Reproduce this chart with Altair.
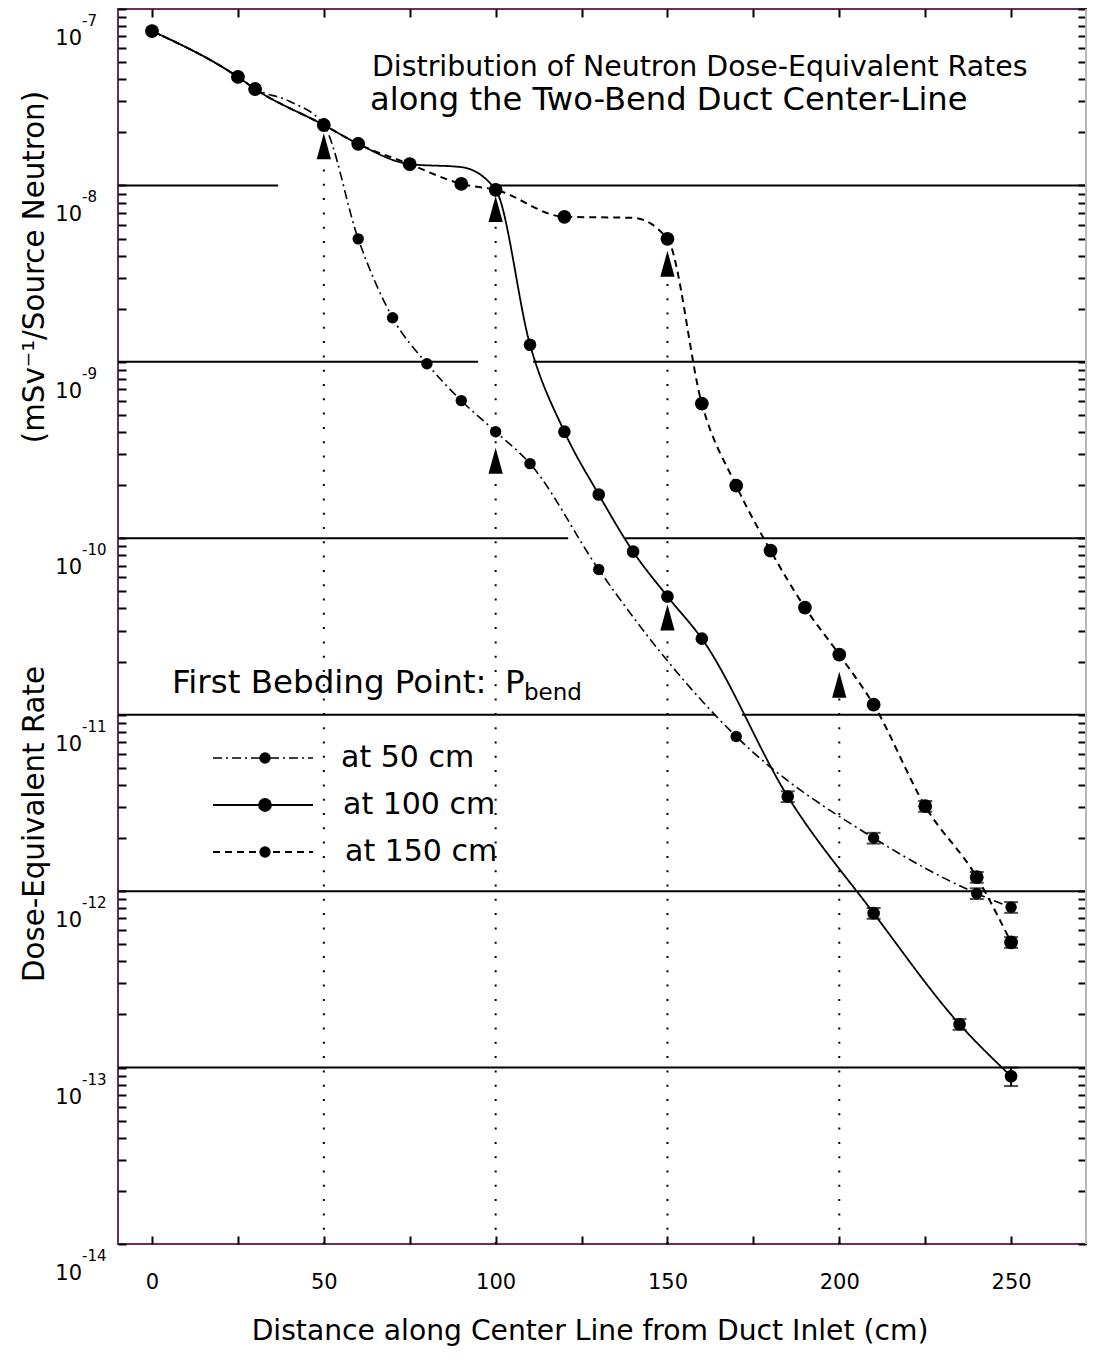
import altair as alt
import pandas as pd

FONT = "DejaVu Sans"

series_names = ["at 50 cm", "at 100 cm", "at 150 cm"]

# ---- data (distance in cm, dose rate) ----
x_50 = [0, 25, 30, 50, 60, 70, 80, 90, 100, 110, 130, 170, 210, 240, 250]
y_50 = [7.5e-8, 4.12e-8, 3.52e-8, 2.2e-8, 4.98e-9, 1.78e-9, 9.76e-10, 6.03e-10,
        4.02e-10, 2.65e-10, 6.65e-11, 7.53e-12, 2.0e-12, 9.7e-13, 8.1e-13]
e_50 = [0, 0, 0, 0, 0, 0, 0, 0, 0, 0, 0, 0, 0.07, 0.07, 0.07]

x_100 = [0, 25, 30, 50, 60, 75, 100, 110, 120, 130, 140, 150, 160, 185, 210, 235, 250]
y_100 = [7.5e-8, 4.12e-8, 3.52e-8, 2.2e-8, 1.72e-8, 1.32e-8, 9.44e-9, 1.25e-9,
         4.02e-10, 1.77e-10, 8.41e-11, 4.68e-11, 2.7e-11, 3.44e-12, 7.5e-13,
         1.76e-13, 8.93e-14]
e_100 = [0, 0, 0, 0, 0, 0, 0, 0, 0, 0, 0, 0, 0, 0.07, 0.07, 0.07, 0.12]

x_150 = [0, 25, 30, 50, 60, 75, 90, 100, 120, 150, 160, 170, 180, 190, 200, 210,
         225, 240, 250]
y_150 = [7.5e-8, 4.12e-8, 3.52e-8, 2.2e-8, 1.72e-8, 1.32e-8, 1.02e-8, 9.44e-9,
         6.64e-9, 4.98e-9, 5.8e-10, 1.99e-10, 8.52e-11, 4.05e-11, 2.19e-11,
         1.14e-11, 3.03e-12, 1.2e-12, 5.13e-13]
e_150 = [0] * 16 + [0.07, 0.07, 0.07]

# unmarked points where the drawn curves pass
knot_series = ["at 50 cm", "at 100 cm", "at 150 cm"]
knot_x = [40, 90, 140]
knot_y = [3.0e-8, 1.27e-8, 6.55e-9]

# bend-point arrows and dotted guides
arrow_x = [50, 100, 100, 150, 150, 200]
arrow_y = [1.67e-8, 7.36e-9, 2.75e-10, 3.6e-9, 3.56e-11, 1.48e-11]
guide_x = [50, 100, 150, 200]
guide_top = [1.41e-8, 5.9e-9, 3.03e-9, 1.24e-11]

X_MIN, X_MAX = -9.9, 271.8

# horizontal decade lines (segments)
grid_y = [1e-8, 1e-8, 1e-9, 1e-9, 1e-10, 1e-10, 1e-11, 1e-11, 1e-12, 1e-13]
grid_x0 = [X_MIN, 100.4, X_MIN, 110.9, X_MIN, 137.7, X_MIN, 171.7, X_MIN, X_MIN]
grid_x1 = [36.7, X_MAX, 94.9, X_MAX, 121.1, X_MAX, 163.9, X_MAX, X_MAX, X_MAX]

decade_exp = [-7, -8, -9, -10, -11, -12, -13, -14]
x_tick_vals = [0, 25, 50, 75, 100, 125, 150, 175, 200, 225, 250]
y_tick_vals = [k * 10.0 ** e for e in range(-14, -7) for k in range(1, 10)] + [1e-7]

title_1 = "Distribution of Neutron Dose-Equivalent Rates"
title_2 = "along the Two-Bend Duct Center-Line"
x_title = "Distance along Center Line from Duct Inlet (cm)"
y_title_a = "Dose-Equivalent Rate"
y_title_b = "(mSv\u207b\u00b9/Source Neutron)"
legend_title = "First Bebding Point:"

# ---- tables ----
rows = []
for name, xs_, ys_, es_ in zip(series_names, [x_50, x_100, x_150],
                               [y_50, y_100, y_150], [e_50, e_100, e_150]):
    for xv, yv, ev in zip(xs_, ys_, es_):
        rows.append(dict(series=name, x=xv, y=yv, err=ev,
                         lo=yv * (1 - ev), hi=yv * (1 + ev)))
df = pd.DataFrame(rows)
df_err = df[df["err"] > 0]
df_line = pd.concat([df[["series", "x", "y"]],
                     pd.DataFrame(dict(series=knot_series, x=knot_x, y=knot_y))],
                    ignore_index=True).sort_values(["series", "x"])
df_arrow = pd.DataFrame(dict(x=arrow_x, y=arrow_y))
df_guide = pd.DataFrame(dict(x=guide_x, top=guide_top, bottom=[1e-14] * len(guide_x)))
df_grid = pd.DataFrame(dict(y=grid_y, x0=grid_x0, x1=grid_x1))
df_dec = pd.DataFrame(dict(v=[10.0 ** e for e in decade_exp],
                           ten=["10"] * len(decade_exp),
                           exp=[str(e) for e in decade_exp]))

W, H = 968, 1235
xscale = alt.Scale(domain=[X_MIN, X_MAX], nice=False, zero=False)
yscale = alt.Scale(type="log", domain=[1e-14, 1e-7], nice=False)

dash_range = [[9, 4, 2, 4], [1, 0], [7, 5]]
width_range = [1.6, 2.0, 1.8]
size_range = [130, 190, 130]

sd = alt.StrokeDash("series:N", scale=alt.Scale(domain=series_names, range=dash_range), legend=None)
sw = alt.StrokeWidth("series:N", scale=alt.Scale(domain=series_names, range=width_range), legend=None)
sz = alt.Size("series:N", scale=alt.Scale(domain=series_names, range=size_range), legend=None)


def X(f):
    return alt.X(f, type="quantitative", scale=xscale, axis=None)


def Y(f):
    return alt.Y(f, type="quantitative", scale=yscale, axis=None)


grid = alt.Chart(df_grid).mark_rule(color="black", strokeWidth=2).encode(
    x=X("x0"), x2="x1", y=Y("y"))

guides = alt.Chart(df_guide).mark_rule(color="black", strokeWidth=2, strokeDash=[2, 12.3]).encode(
    x=X("x"), y=Y("bottom"), y2="top")

curves = alt.Chart(df_line).mark_line(color="black", interpolate="monotone").encode(
    x=X("x"), y=Y("y"), strokeDash=sd, strokeWidth=sw, detail="series:N",
    order="x:Q")

err_rule = alt.Chart(df_err).mark_rule(color="black", strokeWidth=2).encode(
    x=X("x"), y=Y("lo"), y2="hi")
err_lo = alt.Chart(df_err).mark_tick(color="black", orient="horizontal", size=14, thickness=2).encode(
    x=X("x"), y=Y("lo"))
err_hi = alt.Chart(df_err).mark_tick(color="black", orient="horizontal", size=14, thickness=2).encode(
    x=X("x"), y=Y("hi"))

points = alt.Chart(df).mark_point(filled=True, color="black", opacity=1).encode(
    x=X("x"), y=Y("y"), size=sz)

arrows = alt.Chart(df_arrow).mark_point(
    filled=True, color="black", opacity=1, size=676,
    shape="M0,-1L0.55,1L-0.55,1Z").encode(x=X("x"), y=Y("y"))

ten = alt.Chart(df_dec).mark_text(font=FONT, fontSize=21, align="right",
                                  baseline="alphabetic", dy=36, color="black").encode(
    x=alt.value(-36), y=Y("v"), text="ten:N")
expo = alt.Chart(df_dec).mark_text(font=FONT, fontSize=15, align="left",
                                   baseline="alphabetic", dy=17, color="black").encode(
    x=alt.value(-36), y=Y("v"), text="exp:N")


def label(txt, x, y, size, align="left", baseline="alphabetic", angle=0):
    kw = dict(font=FONT, fontSize=size, align=align, baseline=baseline, color="black")
    if angle:
        kw["angle"] = angle
    return alt.Chart(pd.DataFrame(dict(t=[txt]))).mark_text(**kw).encode(
        x=alt.value(x), y=alt.value(y), text="t:N")


texts = [
    label(title_1, 254, 67, 28.4),
    label(title_2, 252, 101, 32.2),
    label(x_title, 472, 1331, 28.2, align="center"),
    label(y_title_a, -83, 815, 29.3, align="center", baseline="middle", angle=270),
    label(y_title_b, -83, 258, 29.3, align="center", baseline="middle", angle=270),
    label(legend_title, 54, 684, 32.5),
    label("P", 387, 684, 32.5),
    label("bend", 406, 691, 23),
]

legend_rows_y = [749, 796, 843]
legend_label_x = [223, 225, 227]
legend = []
for name, yrow, lx, dash, w, s in zip(series_names, legend_rows_y, legend_label_x,
                                     dash_range, width_range, size_range):
    d = pd.DataFrame(dict(t=[name]))
    legend.append(alt.Chart(d).mark_rule(color="black", strokeWidth=w, strokeDash=dash).encode(
        x=alt.value(95), x2=alt.value(195), y=alt.value(yrow)))
    legend.append(alt.Chart(d).mark_point(filled=True, color="black", opacity=1, size=s).encode(
        x=alt.value(147), y=alt.value(yrow)))
    legend.append(alt.Chart(d).mark_text(font=FONT, fontSize=30, align="left",
                                         baseline="middle", color="black").encode(
        x=alt.value(lx), y=alt.value(yrow), text="t:N"))

axis_common = dict(tickSize=8, tickWidth=2, tickColor="black", offset=-8,
                   domain=False, grid=False, title=None)
axis_bl = alt.Chart(df_grid).mark_point(opacity=0).encode(
    x=alt.X("x0:Q", scale=xscale, axis=alt.Axis(
        orient="bottom", values=x_tick_vals,
        labelExpr="datum.value % 50 == 0 ? datum.label : ''",
        labelFont=FONT, labelFontSize=21, labelColor="black", labelPadding=27,
        **axis_common)),
    y=alt.Y("y:Q", scale=yscale, axis=alt.Axis(
        orient="left", values=y_tick_vals, labels=False, **axis_common)))
axis_tr = alt.Chart(df_grid).mark_point(opacity=0).encode(
    x=alt.X("x0:Q", scale=xscale, axis=alt.Axis(
        orient="top", values=x_tick_vals, labels=False, **axis_common)),
    y=alt.Y("y:Q", scale=yscale, axis=alt.Axis(
        orient="right", values=y_tick_vals, labels=False, **axis_common)))

right_edge = alt.Chart(pd.DataFrame(dict(a=[0]))).mark_rule(color="#b8b8b8", strokeWidth=2).encode(
    x=alt.value(W), y=alt.value(0), y2=alt.value(H))

chart = alt.layer(
    axis_bl, axis_tr, grid, guides, curves, err_rule, err_lo, err_hi, points, arrows,
    ten, expo, *texts, *legend, right_edge
).resolve_axis(x="independent", y="independent").properties(
    width=W, height=H,
    padding={"left": 110, "top": 1, "right": 2, "bottom": 102},
    autosize=alt.AutoSizeParams(type="none"),
).configure_view(stroke="#6b2d5f", strokeWidth=2)

chart.save("out.html", embed_options={"renderer": "svg", "actions": False})
